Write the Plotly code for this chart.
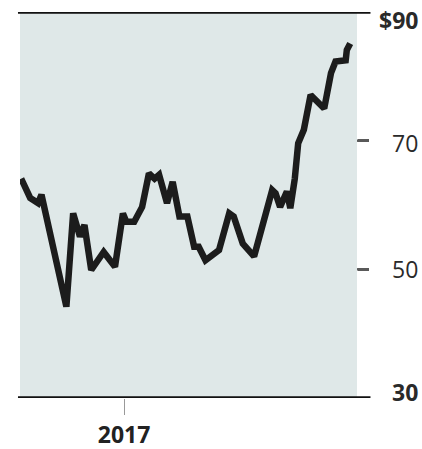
import plotly.graph_objects as go

dates = [
    "2016-10-02", "2016-10-10", "2016-10-17", "2016-10-20", "2016-11-11",
    "2016-11-17", "2016-11-23", "2016-11-27", "2016-12-03", "2016-12-14",
    "2016-12-24", "2016-12-31", "2017-01-03", "2017-01-10", "2017-01-17",
    "2017-01-23", "2017-01-28", "2017-02-01", "2017-02-08", "2017-02-13",
    "2017-02-19", "2017-02-26", "2017-03-04", "2017-03-08", "2017-03-14",
    "2017-03-22", "2017-03-26", "2017-04-04", "2017-04-08", "2017-04-16",
    "2017-04-26", "2017-05-12", "2017-05-15", "2017-05-19", "2017-05-25",
    "2017-05-28", "2017-06-01", "2017-06-04", "2017-06-09", "2017-06-15",
    "2017-06-27", "2017-07-03", "2017-07-07", "2017-07-16", "2017-07-17",
    "2017-07-20",
]
prices = [
    64.1, 61.1, 60.3, 61.6, 44.2,
    58.7, 55.1, 56.9, 49.9, 52.7,
    50.4, 58.7, 57.4, 57.4, 59.7,
    64.9, 64.1, 64.7, 60.3, 63.6,
    58.2, 58.2, 53.5, 53.5, 51.4,
    52.5, 53.0, 58.7, 58.2, 54.0,
    52.0, 62.3, 61.8, 59.7, 62.1,
    59.5, 64.1, 69.6, 71.7, 77.1,
    75.0, 80.5, 82.3, 82.5, 84.1,
    85.1,
]

x_range = ["2016-10-01", "2017-07-26"]
y_range = [30, 90]
x_tick_vals = ["2017-01-01"]
x_tick_text = ["<b>2017</b>"]
y_tick_vals = [90, 70, 50, 30]
y_tick_text = ["<b>$90</b>", "70", "50", "<b>30</b>"]
y_frame_vals = [90, 30]
y_minor_vals = [70, 50]

fig = go.Figure()
fig.add_trace(go.Scatter(
    x=dates, y=prices, mode="lines",
    line=dict(color="#1c1c1c", width=6.5),
    hoverinfo="skip", showlegend=False,
))

shapes = []
for v in y_frame_vals + y_minor_vals:
    minor = v in y_minor_vals
    shapes.append(dict(
        type="line", xref="paper", yref="y",
        x0=1.0 if minor else -0.006, x1=1.033 if minor else 1.04,
        y0=v, y1=v,
        line=dict(color="#5a5a5a" if minor else "#111111",
                  width=2.5 if minor else 3.5),
        layer="above"))

shift = {90: -8, 70: -2, 50: 0, 30: 6}
annotations = []
for v, t in zip(y_tick_vals, y_tick_text):
    annotations.append(dict(
        x=1.187, xref="paper", y=v, yref="y", text=t, showarrow=False,
        xanchor="right", yanchor="middle", yshift=shift[v],
        font=dict(size=23, color="#2a2a2a", family="Open Sans"),
    ))

fig.update_layout(
    width=422, height=449,
    margin=dict(l=20, r=65, t=12, b=51),
    paper_bgcolor="white",
    plot_bgcolor="#dfe8e8",
    shapes=shapes,
    annotations=annotations,
    font=dict(family="Open Sans", size=23, color="#222222"),
    xaxis=dict(
        type="date", range=x_range, showgrid=False, zeroline=False,
        showline=False, tickvals=x_tick_vals, ticktext=x_tick_text,
        ticks="outside", ticklen=16, tickcolor="#999999", tickwidth=1.2,
        tickfont=dict(size=23, color="#222222", family="Open Sans"),
        automargin=False,
    ),
    yaxis=dict(
        range=y_range, showgrid=False, zeroline=False, showline=False,
        side="right", tickvals=y_minor_vals, showticklabels=False,
        ticks="outside", ticklen=11, tickwidth=2.5, tickcolor="#5a5a5a",
        automargin=False,
    ),
)

fig.write_html("out.html")
